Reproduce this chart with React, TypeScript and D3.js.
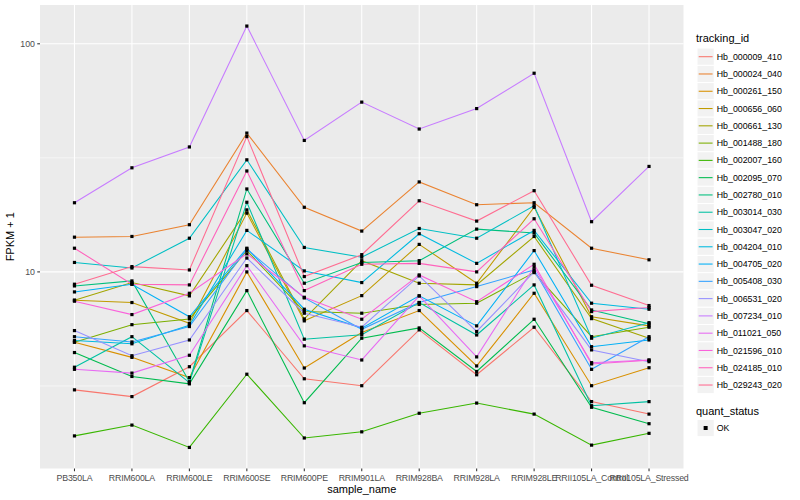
import React from 'react';
import * as d3 from 'd3';

const samples = ['PB350LA', 'RRIM600LA', 'RRIM600LE', 'RRIM600SE', 'RRIM600PE', 'RRIM901LA', 'RRIM928BA', 'RRIM928LA', 'RRIM928LE', 'RRII105LA_Control', 'RRII105LA_Stressed'];

const trackingIds = ['Hb_000009_410', 'Hb_000024_040', 'Hb_000261_150', 'Hb_000656_060', 'Hb_000661_130', 'Hb_001488_180', 'Hb_002007_160', 'Hb_002095_070', 'Hb_002780_010', 'Hb_003014_030', 'Hb_003047_020', 'Hb_004204_010', 'Hb_004705_020', 'Hb_005408_030', 'Hb_006531_020', 'Hb_007234_010', 'Hb_011021_050', 'Hb_021596_010', 'Hb_024185_010', 'Hb_029243_020'];

const palette = ['#F8766D', '#EA8331', '#D89000', '#C09B00', '#A3A500', '#7CAE00', '#39B600', '#00BB4E', '#00BF7D', '#00C1A3', '#00BFC4', '#00BAE0', '#00B0F6', '#35A2FF', '#9590FF', '#C77CFF', '#E76BF3', '#FA62DB', '#FF62BC', '#FF6C91'];

const hb000009_410 = [3.04, 2.84, 3.84, 6.77, 3.40, 3.17, 5.57, 3.54, 5.72, 2.70, 2.38];
const hb000024_040 = [14.2, 14.3, 16.1, 40.6, 19.2, 15.1, 24.8, 19.7, 20.1, 12.7, 11.3];
const hb000261_150 = [4.92, 4.22, 3.44, 10.0, 3.79, 5.42, 6.77, 3.87, 8.06, 3.17, 3.80];
const hb000656_060 = [7.51, 7.34, 5.95, 18.1, 6.1, 7.87, 13.2, 8.92, 19.2, 6.36, 5.8];
const hb000661_130 = [7.51, 8.98, 7.85, 18.7, 6.22, 11.2, 8.92, 8.77, 14.3, 6.24, 5.12];
const hb001488_180 = [4.92, 5.87, 6.22, 12.4, 6.7, 6.59, 7.2, 7.29, 9.93, 5.2, 5.72];
const hb002007_160 = [1.91, 2.13, 1.70, 3.56, 1.87, 1.99, 2.40, 2.66, 2.38, 1.74, 1.96];
const hb002095_070 = [4.43, 3.48, 3.23, 8.28, 2.67, 5.12, 5.68, 3.66, 6.2, 2.55, 2.16];
const hb002780_010 = [8.68, 9.13, 3.30, 23.1, 8.92, 11.0, 11.2, 15.4, 14.8, 6.81, 5.92];
const hb003014_030 = [3.82, 5.2, 3.27, 20.2, 5.07, 5.3, 7.34, 5.29, 8.77, 2.59, 2.70];
const hb003047_020 = [11.0, 10.4, 14.05, 31.0, 12.8, 11.6, 15.5, 14.05, 19.5, 5.12, 5.99];
const hb004204_010 = [5.0, 4.84, 5.84, 15.2, 10.1, 8.98, 14.7, 10.9, 15.2, 7.29, 6.86];
const hb004705_020 = [8.17, 8.83, 6.36, 12.7, 6.86, 5.67, 7.85, 5.8, 12.4, 4.70, 5.03];
const hb005408_030 = [5.2, 4.93, 5.76, 12.6, 7.69, 5.6, 7.34, 8.62, 10.2, 3.74, 5.2];
const hb006531_020 = [5.53, 4.29, 5.03, 11.5, 6.59, 5.72, 9.6, 5.48, 10.0, 4.55, 4.04];
const hb007234_010 = [20.1, 28.6, 35.3, 119.6, 37.7, 55.5, 42.3, 52, 74.3, 16.6, 29];
const hb011021_050 = [3.74, 3.6, 4.31, 10.65, 4.74, 4.11, 7.85, 4.24, 10.5, 4.0, 4.11];
const hb021596_010 = [7.44, 6.5, 8.06, 12.0, 7.74, 6.2, 9.7, 7.4, 10.8, 3.95, 4.1];
const hb024185_010 = [12.7, 8.83, 8.77, 27.7, 8.28, 10.8, 10.9, 10.0, 17.1, 6.70, 6.98];
const hb029243_020 = [8.83, 10.55, 10.2, 39.2, 9.54, 11.9, 20.5, 16.7, 22.7, 8.74, 7.12];

const seriesValues = [hb000009_410, hb000024_040, hb000261_150, hb000656_060, hb000661_130, hb001488_180, hb002007_160, hb002095_070, hb002780_010, hb003014_030, hb003047_020, hb004204_010, hb004705_020, hb005408_030, hb006531_020, hb007234_010, hb011021_050, hb021596_010, hb024185_010, hb029243_020];

const yTicks = [10, 100];
const yTickLabels = ['10', '100'];
const quantStatus = ['OK'];

const FONT = '"Liberation Sans", Arial, Helvetica, sans-serif';

export default function App() {
  const W = 800, H = 500;
  const P = { left: 40, right: 683.5, top: 5, bottom: 468.5 };
  const all = seriesValues.flat();
  const [lo, hi] = d3.extent(all) as [number, number];
  const llo = Math.log10(lo), lhi = Math.log10(hi);
  const pad = (lhi - llo) * 0.05;
  const y = d3.scaleLog().domain([10 ** (llo - pad), 10 ** (lhi + pad)]).range([P.bottom, P.top]);
  const x = d3.scalePoint<string>().domain(samples).range([P.left, P.right]).padding(0.6);
  const line = d3.line<number>().x((_, i) => x(samples[i]) as number).y((d) => y(d));

  const [d0, d1] = y.domain();
  const minor: number[] = [];
  for (let e = Math.floor(Math.log10(d0)); e <= Math.ceil(Math.log10(d1)); e++) {
    const v = 10 ** (e + 0.5);
    if (v > d0 && v < d1) minor.push(v);
  }

  const legX = 697;
  const keyH = 17.28;
  const legTop = 56.7;

  return (
    <svg width={W} height={H} style={{ position: 'fixed', left: 0, top: 0, background: '#fff' }} fontFamily={FONT}>
      <rect x={0} y={0} width={W} height={H} fill="#fff" />
      <rect x={P.left} y={P.top} width={P.right - P.left} height={P.bottom - P.top} fill="#EBEBEB" />
      {minor.map((v) => (
        <line key={'mn' + v} x1={P.left} x2={P.right} y1={y(v)} y2={y(v)} stroke="#fff" strokeWidth={0.55} />
      ))}
      {yTicks.map((v) => (
        <line key={'mj' + v} x1={P.left} x2={P.right} y1={y(v)} y2={y(v)} stroke="#fff" strokeWidth={1.07} />
      ))}
      {samples.map((s) => (
        <line key={'vx' + s} x1={x(s)} x2={x(s)} y1={P.top} y2={P.bottom} stroke="#fff" strokeWidth={1.07} />
      ))}
      {seriesValues.map((vals, i) => (
        <path key={'ln' + i} d={line(vals) as string} fill="none" stroke={palette[i]} strokeWidth={1.07} />
      ))}
      {seriesValues.map((vals, i) =>
        vals.map((v, j) => {
          const cx = x(samples[j]) as number;
          const cy = y(v);
          return <rect key={'pt' + i + '_' + j} x={cx - 1.6} y={cy - 1.6} width={3.2} height={3.2} fill="#000" />;
        })
      )}
      {/* y axis */}
      {yTicks.map((v, i) => (
        <g key={'yt' + v}>
          <line x1={P.left - 2.75} x2={P.left} y1={y(v)} y2={y(v)} stroke="#333" strokeWidth={1.07} />
          <text x={P.left - 5} y={y(v)} dy="0.35em" textAnchor="end" fontSize={8.8} fill="#4D4D4D">{yTickLabels[i]}</text>
        </g>
      ))}
      {/* x axis */}
      {samples.map((s) => (
        <g key={'xt' + s}>
          <line x1={x(s)} x2={x(s)} y1={P.bottom} y2={P.bottom + 2.75} stroke="#333" strokeWidth={1.07} />
          <text x={x(s)} y={P.bottom + 12.5} textAnchor="middle" fontSize={8.8} fill="#4D4D4D" letterSpacing={-0.2}>{s}</text>
        </g>
      ))}
      <text x={(P.left + P.right) / 2} y={493} textAnchor="middle" fontSize={11} fill="#000">sample_name</text>
      <text transform={`translate(14, ${(P.top + P.bottom) / 2}) rotate(-90)`} textAnchor="middle" fontSize={11} fill="#000">FPKM + 1</text>

      {/* legend tracking_id */}
      <text x={legX - 1} y={42} fontSize={11} fill="#000">tracking_id</text>
      {trackingIds.map((id, i) => {
        const cy = legTop + i * keyH;
        return (
          <g key={'lg' + id}>
            <rect x={legX} y={cy - keyH / 2} width={keyH} height={keyH} fill="#F2F2F2" stroke="#fff" strokeWidth={1} />
            <line x1={legX + 1.7} x2={legX + keyH - 1.7} y1={cy} y2={cy} stroke={palette[i]} strokeWidth={1.07} />
            <text x={legX + keyH + 2.5} y={cy} dy="0.35em" fontSize={8.8} fill="#000">{id}</text>
          </g>
        );
      })}
      {/* legend quant_status */}
      <text x={legX - 1} y={415} fontSize={11} fill="#000">quant_status</text>
      {quantStatus.map((q, i) => {
        const cy = 428 + i * keyH;
        return (
          <g key={'qs' + q}>
            <rect x={legX} y={cy - keyH / 2} width={keyH} height={keyH} fill="#F2F2F2" stroke="#fff" strokeWidth={1} />
            <rect x={legX + keyH / 2 - 2} y={cy - 2} width={4} height={4} fill="#000" />
            <text x={legX + keyH + 2.5} y={cy} dy="0.35em" fontSize={8.8} fill="#000">{q}</text>
          </g>
        );
      })}
    </svg>
  );
}
